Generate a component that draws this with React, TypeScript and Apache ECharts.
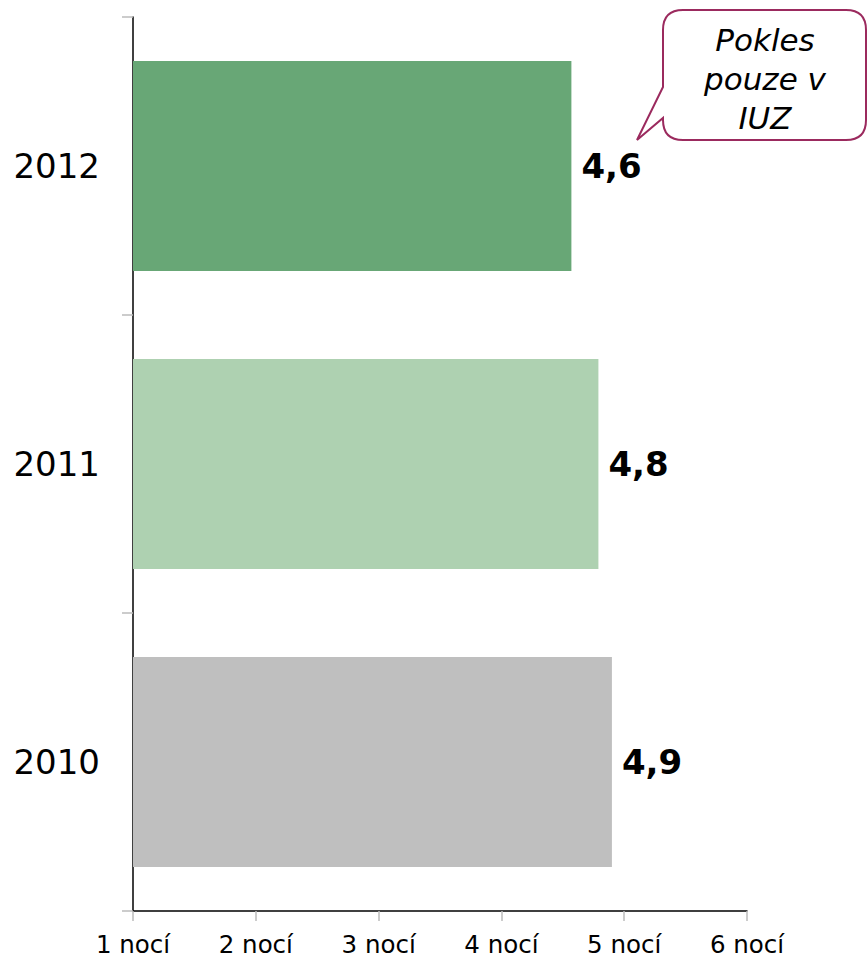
import React, { useEffect, useRef } from "react";
import * as echarts from "echarts";

const categories = ["2010", "2011", "2012"];
const values = [4.9, 4.79, 4.57];
const barColors = ["#BFBFBF", "#AED1B1", "#68A776"];
const xTicks = [1, 2, 3, 4, 5, 6];
const calloutLines = ["Pokles", "pouze v", "IUZ"];

const calloutPath =
  "M683 10 H846 Q866 10 866 30 V120 Q866 140 846 140 H683 Q663 140 663 120 V118 L637 140 L663 87 V30 Q663 10 683 10 Z";

let registered = false;
function ensureShape() {
  if (registered) return;
  echarts.graphic.registerShape("callout", echarts.graphic.extendPath(calloutPath, {}) as any);
  registered = true;
}

export default function App() {
  const ref = useRef<HTMLDivElement>(null);
  useEffect(() => {
    if (!ref.current) return;
    ensureShape();
    const chart = echarts.init(ref.current, undefined, { renderer: "svg" });
    chart.setOption({
      animation: false,
      grid: { left: 133, right: 120, top: 17, bottom: 49, containLabel: false },
      xAxis: {
        type: "value",
        min: xTicks[0],
        max: xTicks[xTicks.length - 1],
        interval: 1,
        axisLine: { show: true, lineStyle: { color: "#000", width: 1.5 } },
        axisTick: { show: true, length: 10, lineStyle: { color: "#BBBBBB", width: 1.5 } },
        splitLine: { show: false },
        axisLabel: {
          margin: 21,
          fontFamily: "DejaVu Sans",
          fontSize: 24.5,
          color: "#000",
          formatter: (v: number) => `${v} nocí`,
        },
      },
      yAxis: {
        type: "category",
        data: categories,
        axisLine: { show: true, onZero: false, lineStyle: { color: "#000", width: 1.5 } },
        axisTick: { show: true, length: 11, lineStyle: { color: "#BBBBBB", width: 1.5 } },
        axisLabel: {
          margin: 33,
          fontFamily: "DejaVu Sans",
          fontSize: 34,
          color: "#000",
        },
      },
      series: [
        {
          type: "bar",
          barCategoryGap: "29.5%",
          data: values.map((v, i) => ({ value: v, itemStyle: { color: barColors[i] } })),
          label: {
            show: true,
            position: "right",
            distance: 10,
            fontFamily: "DejaVu Sans",
            fontWeight: "bold",
            fontSize: 34,
            color: "#000",
            formatter: (p: any) => p.value.toFixed(1).replace(".", ","),
          },
        },
      ],
      graphic: [
        {
          type: "callout",
          x: 0,
          y: 0,
          style: { fill: "#fff", stroke: "#9B2A5E", lineWidth: 2 },
          z: 10,
        },
        {
          type: "text",
          x: 765,
          y: 79,
          z: 11,
          style: {
            text: calloutLines.join("\n"),
            fontFamily: "DejaVu Sans",
            fontStyle: "italic",
            fontSize: 31,
            lineHeight: 39,
            fill: "#000",
            align: "center",
            verticalAlign: "middle",
          },
        },
      ],
    });
    return () => chart.dispose();
  }, []);
  return (
    <div
      ref={ref}
      style={{ position: "fixed", left: 0, top: 0, width: 867, height: 960, background: "#fff" }}
    />
  );
}
